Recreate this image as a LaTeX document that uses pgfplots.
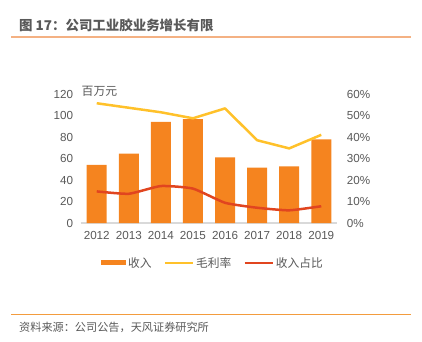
\documentclass[border=0pt]{standalone}
\usepackage{fontspec}
\setmainfont{Liberation Sans}
\newfontfamily\cjk{Noto Sans CJK SC}
\usepackage{pgfplots}
\pgfplotsset{compat=1.18}
\definecolor{barc}{HTML}{F5841F}
\definecolor{yel}{HTML}{FFC12A}
\definecolor{redl}{HTML}{E1451F}
\definecolor{txt}{HTML}{595959}
\definecolor{tline}{HTML}{F4B183}
\definecolor{bline}{HTML}{F39C3E}
\definecolor{axc}{HTML}{D9D9D9}
\begin{document}
\begin{tikzpicture}[x=1bp,y=1bp]
\path (0,0) rectangle (422,-342);
\draw[tline, line width=1.5bp] (11,-37) -- (411,-37);
\node[anchor=west, inner sep=0pt, font=\cjk\bfseries\fontsize{13.5}{14}\selectfont, text=txt] at (19,-25) {图 17：公司工业胶业务增长有限};
\draw[bline, line width=1bp] (11,-314) -- (411,-314);
\node[anchor=west, inner sep=0pt, font=\cjk\fontsize{11.2}{12}\selectfont, text=txt] at (19,-327) {资料来源：公司公告，天风证券研究所};
\node[anchor=west, inner sep=0pt, font=\cjk\fontsize{11.9}{12}\selectfont, text=txt] at (81.5,-91) {百万元};
\begin{axis}[
  at={(80.7bp,-223bp)}, anchor=south west, scale only axis,
  width=256.6bp, height=129bp,
  xmin=-0.5, xmax=7.5, ymin=0, ymax=120,
  axis x line*=bottom, axis y line*=left,
  y axis line style={draw=none},
  x axis line style={draw=axc, line width=1.3bp, -},
  major tick length=0pt,
  xtick={0,...,7},
  xticklabels={2012,2013,2014,2015,2016,2017,2018,2019},
  ytick={0,20,...,120},
  tick label style={font=\fontsize{11.7}{12}\selectfont, text=txt},
  /pgf/number format/assume math mode=true,
  xticklabel style={yshift=-5bp},
  yticklabel style={xshift=-4bp},
  legend columns=3,
  legend style={draw=none, fill=none, at={(0.5156,-0.31)}, anchor=center,
    font=\cjk\fontsize{11.8}{12}\selectfont, text=txt,
    /tikz/every even column/.append style={column sep=10bp}},
]
\addplot[ybar, bar width=20bp, fill=barc, draw=none,
  legend image code/.code={\fill[barc] (0bp,-2.5bp) rectangle (25bp,2.5bp);}]
  coordinates {(0,54) (1,64.5) (2,94) (3,96.7) (4,61) (5,51.5) (6,52.7) (7,77.8)};
\addlegendentry{收入}
\addlegendimage{legend image code/.code={\draw[yel, line width=2.5bp] (0bp,0bp) -- (28bp,0bp);}}
\addlegendentry{毛利率}
\addlegendimage{legend image code/.code={\draw[redl, line width=2.5bp] (0bp,0bp) -- (28bp,0bp);}}
\addlegendentry{收入占比}
\end{axis}
\begin{axis}[
  at={(80.7bp,-223bp)}, anchor=south west, scale only axis,
  width=256.6bp, height=129bp,
  xmin=-0.5, xmax=7.5, ymin=0, ymax=60,
  axis x line=none, axis y line*=right,
  y axis line style={draw=none},
  major tick length=0pt,
  xtick=\empty,
  ytick={0,10,...,60},
  yticklabel={\pgfmathprintnumber{\tick}\%},
  tick label style={font=\fontsize{11.7}{12}\selectfont, text=txt},
  /pgf/number format/assume math mode=true,
  yticklabel style={xshift=6bp},
]
\addplot[yel, line width=2.5bp, line join=round] coordinates {(0,55.7) (1,53.6) (2,51.5) (3,48.7) (4,53.3) (5,38.5) (6,34.7) (7,41)};
\addplot[redl, line width=2.5bp, line join=round, smooth, tension=0.3] coordinates {(0,14.7) (1,13.6) (2,17.2) (3,16) (4,9.4) (5,7.1) (6,5.9) (7,7.8)};
\end{axis}
\end{tikzpicture}
\end{document}
